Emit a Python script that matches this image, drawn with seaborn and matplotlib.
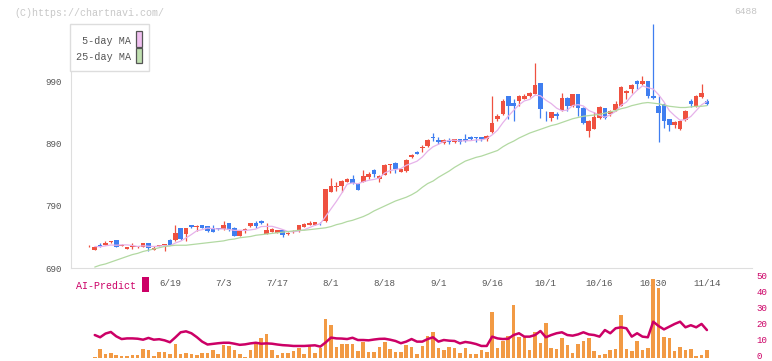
import numpy as np
import pandas as pd
import seaborn as sns
from matplotlib import pyplot as plt
from matplotlib.patches import Rectangle
from matplotlib.transforms import ScaledTranslation

# daily candles (price)
opens = [725, 720, 728, 728, 732, 735, 725, 721, 724, 724,
         724, 730, 719, 725, 727, 735, 735, 754, 745, 759,
         757, 759, 758, 754, 754, 753, 763, 755, 742, 751,
         758, 763, 766, 745, 749, 747, 751, 745, 748, 750,
         757, 759, 760, 763, 766, 813, 821, 822, 829, 834,
         826, 829, 837, 848, 834, 840, 856, 859, 845, 846,
         868, 877, 883, 886, 900, 896, 891, 896, 892, 898,
         898, 901, 900, 900, 897, 908, 930, 937, 966, 956,
         958, 962, 966, 970, 987, 933, 931, 938, 944, 964,
         950, 969, 948, 910, 914, 931, 947, 937, 944, 951,
         972, 978, 991, 985, 990, 967, 951, 954, 929, 920,
         913, 928, 959, 950, 965, 958]
highs = [727, 724, 730, 734, 734, 735, 729, 724, 730, 726,
         731, 730, 725, 728, 729, 737, 760, 755, 755, 760,
         759, 760, 758, 760, 755, 766, 763, 756, 750, 754,
         763, 766, 767, 762, 754, 752, 752, 748, 751, 760,
         762, 766, 764, 764, 818, 835, 828, 831, 835, 840,
         827, 848, 845, 849, 839, 857, 858, 860, 850, 865,
         874, 878, 888, 897, 907, 901, 897, 899, 898, 898,
         906, 902, 901, 901, 904, 967, 938, 961, 967, 962,
         968, 970, 973, 1019, 988, 943, 941, 940, 971, 965,
         970, 970, 949, 928, 940, 950, 948, 944, 959, 982,
         976, 985, 992, 998, 991, 1082, 967, 955, 930, 926,
         928, 944, 961, 968, 985, 961]
lows = [724, 720, 724, 727, 730, 724, 725, 721, 721, 723,
        724, 717, 719, 725, 717, 727, 734, 736, 734, 755,
        750, 755, 749, 748, 751, 752, 750, 742, 742, 747,
        757, 754, 761, 745, 748, 746, 741, 744, 746, 749,
        756, 759, 760, 760, 765, 812, 814, 813, 829, 826,
        815, 828, 834, 837, 829, 840, 843, 843, 844, 845,
        867, 873, 877, 885, 894, 890, 889, 890, 891, 890,
        893, 896, 893, 894, 894, 907, 927, 936, 930, 926,
        950, 961, 965, 969, 931, 926, 926, 929, 943, 943,
        949, 935, 922, 900, 913, 930, 930, 935, 942, 950,
        962, 972, 977, 984, 963, 962, 892, 915, 910, 915,
        912, 927, 949, 949, 964, 952]
closes = [726, 724, 724, 730, 733, 724, 727, 724, 725, 725,
          730, 723, 722, 728, 729, 728, 746, 737, 754, 756,
          758, 755, 750, 749, 753, 759, 751, 742, 750, 752,
          763, 758, 762, 751, 753, 751, 744, 746, 749, 759,
          761, 762, 764, 762, 817, 822, 822, 830, 834, 827,
          815, 838, 842, 841, 838, 856, 857, 850, 849, 864,
          872, 874, 884, 896, 899, 892, 896, 893, 898, 892,
          894, 897, 899, 898, 903, 923, 935, 959, 950, 950,
          967, 967, 971, 984, 945, 932, 940, 934, 963, 950,
          969, 947, 923, 927, 932, 949, 931, 943, 954, 981,
          974, 984, 985, 990, 966, 963, 939, 927, 920, 925,
          927, 943, 953, 967, 972, 953]

# 25-day moving average as drawn
ma25 = [np.nan, 692, 695, 697, 700, 703, 706, 709, 712, 714,
        717, 719, 721, 723, 725, 726, 727, 727, 727, 728,
        729, 730, 731, 732, 733, 734, 736, 737, 739, 740,
        741, 743, 744, 745, 746, 747, 748, 749, 750, 751,
        751, 752, 753, 754, 755, 757, 760, 762, 765, 767,
        770, 773, 777, 782, 786, 790, 794, 798, 801, 804,
        808, 813, 820, 826, 830, 836, 841, 846, 852, 857,
        862, 865, 868, 870, 873, 876, 879, 885, 890, 894,
        899, 903, 907, 910, 913, 916, 919, 921, 924, 927,
        930, 932, 934, 935, 936, 937, 939, 941, 943, 946,
        948, 951, 953, 955, 956, 955, 954, 952, 950, 949,
        948, 948, 949, 950, 950, 951]

# volume bars and AI-Predict line (right scale 0-50)
volume = [0, 0.6, 5.4, 2.3, 2.9, 1.7, 1.1, 1.1, 1.9, 1.7,
          5.4, 5.0, 1.2, 3.5, 3.5, 2.5, 8.5, 2.5, 2.9, 2.1,
          1.5, 2.9, 2.9, 4.8, 2.1, 7.7, 7.3, 5.0, 2.1, 0.6,
          4.6, 8.9, 12.3, 14.7, 4.8, 1.7, 3.1, 2.9, 4.1, 6.2,
          2.3, 7.3, 3.1, 6.0, 24.0, 20.3, 6.8, 8.5, 8.5, 8.5,
          4.4, 10.0, 3.3, 3.3, 6.4, 9.7, 5.6, 3.7, 3.3, 7.9,
          6.8, 2.3, 7.3, 13.5, 15.8, 6.0, 4.8, 6.6, 6.0, 3.1,
          6.0, 2.3, 2.3, 4.8, 3.5, 28.4, 6.0, 10.6, 13.3, 32.8,
          12.9, 12.7, 4.8, 15.8, 9.1, 21.4, 6.0, 5.4, 12.3, 7.7,
          2.9, 8.5, 10.4, 12.3, 4.1, 1.7, 2.3, 4.8, 5.4, 26.4,
          5.4, 4.1, 10.4, 4.8, 6.0, 49.0, 43.3, 12.9, 12.3, 4.1,
          6.6, 4.8, 5.4, 1.1, 1.7, 4.8]
ai_predict = [np.nan, 14.1, 12.7, 15.0, 16.0, 13.3, 11.6, 12.0, 12.0, 11.8,
              11.2, 12.3, 11.2, 11.5, 10.8, 9.6, 12.6, 15.8, 16.4, 15.2,
              12.8, 10.0, 8.2, 8.6, 9.0, 9.3, 9.3, 8.7, 8.0, 8.3,
              8.9, 9.3, 8.7, 8.9, 8.7, 8.2, 7.8, 7.6, 7.3, 7.3,
              7.3, 7.5, 7.7, 6.9, 9.5, 12.5, 12.0, 11.9, 11.6, 12.4,
              11.0, 11.0, 10.8, 11.3, 11.7, 11.8, 11.2, 10.4, 9.0, 10.0,
              11.6, 10.0, 10.0, 11.6, 12.7, 10.0, 11.0, 10.6, 10.4, 8.9,
              9.8, 9.3, 8.5, 7.3, 7.3, 13.1, 12.0, 11.6, 11.8, 14.1,
              15.2, 13.1, 13.1, 14.1, 16.6, 12.7, 14.1, 15.2, 15.8, 14.1,
              13.7, 14.5, 15.8, 14.5, 14.1, 13.1, 17.2, 15.2, 18.3, 18.9,
              18.3, 13.1, 15.2, 13.1, 12.7, 22.4, 19.7, 17.6, 19.3, 21.0,
              22.4, 18.9, 20.2, 18.9, 21.0, 17.2]

# date labels sit every 10 trading days, counted back from the last day
date_labels = ["6/19", "7/3", "7/17", "8/1", "8/18", "9/1",
               "9/16", "10/1", "10/16", "10/30", "11/14"]
date_days = [15, 25, 35, 45, 55, 65, 75, 85, 95, 105, 115]
price_ticks = [690, 790, 890, 990]
ai_ticks = [0, 10, 20, 30, 40, 50]

sns.set_theme(style="white")
plt.rcParams['font.family'] = ['Liberation Mono', 'DejaVu Sans Mono']

df = pd.DataFrame({"open": opens, "high": highs, "low": lows, "close": closes,
                   "ma25": ma25, "volume": volume, "ai": ai_predict})
df["day"] = np.arange(len(df))
df["ma5"] = df["close"].rolling(5, min_periods=2).mean()
up = df["close"] >= df["open"]
colors = np.where(up, "#ef5140", "#3f7ef0")

W, H = 772, 361
fig = plt.figure(figsize=(W / 100, H / 100), dpi=100)
xlim = (-3.48, 123.45)

# main price panel
ax = fig.add_axes([70.7 / W, 1 - 268.3 / H, 681.6 / W, 244.3 / H])
ax.vlines(df["day"], df["low"], df["high"], colors=colors, lw=0.9, zorder=2)
body = np.maximum((df["close"] - df["open"]).abs(), 1.3)
ax.bar(df["day"], body, bottom=df[["open", "close"]].min(axis=1),
       width=0.86, color=colors, edgecolor="none", linewidth=0, zorder=3)
sns.lineplot(x=df["day"].values, y=df["ma5"].values, ax=ax, color="#e6b2ea", lw=0.9, zorder=4)
sns.lineplot(x=df["day"].values, y=df["ma25"].values, ax=ax, color="#b2d9a2", lw=0.9, zorder=4)
ax.set_xlim(xlim)
ax.set_ylim(690, 1082)
ax.set_xlabel("")
ax.set_ylabel("")
for s in ["top", "right"]:
    ax.spines[s].set_visible(False)
for s in ["left", "bottom"]:
    ax.spines[s].set_color("#dedede")
    ax.spines[s].set_linewidth(0.8)
ax.set_xticks(np.linspace(xlim[0], xlim[1], 12), [""] * 12)
ax.set_xticks(date_days, date_labels, minor=True)
ax.tick_params(axis="x", which="major", direction="inout", length=6, width=0.8, color="#dedede")
ax.tick_params(axis="x", which="minor", length=0, pad=7.6, labelsize=6.6, labelcolor="#555555")
ax.set_yticks(price_ticks, [str(v) for v in price_ticks])
ax.tick_params(axis="y", direction="inout", length=6, width=0.8, color="#dedede",
               pad=3.2, labelsize=6.6, labelcolor="#555555")

# volume + AI-Predict panel
ax2 = fig.add_axes([70.7 / W, 1 - 357.7 / H, 681.6 / W, 80.4 / H])
ax2.patch.set_visible(False)
ax2.bar(df["day"], df["volume"], width=0.66, color="#f29a44", edgecolor="none", linewidth=0, zorder=2)
sns.lineplot(x=df["day"].values, y=df["ai"].values, ax=ax2, color="#cc0066", lw=1.8, zorder=3)
ax2.set_xlim(xlim)
ax2.set_ylim(0, 50)
ax2.set_xlabel("")
ax2.set_ylabel("")
for s in ax2.spines.values():
    s.set_visible(False)
ax2.set_xticks([])
ax2.yaxis.tick_right()
ax2.set_yticks(ai_ticks, [str(v) for v in ai_ticks])
ax2.tick_params(axis="y", length=0, pad=3, labelsize=6.6, labelcolor="#cc0066")
# nudge the right-hand labels up a touch so "0" stays inside the figure
lift = ScaledTranslation(0, 1.5 / 72, fig.dpi_scale_trans)
for lbl in ax2.get_yticklabels():
    lbl.set_transform(lbl.get_transform() + lift)

# legend box for the moving averages
fig.patches.append(Rectangle((70.3 / W, 1 - 71 / H), 78.4 / W, 47 / H, transform=fig.transFigure,
                             fc="white", ec="#dddddd", lw=1))
fig.patches.append(Rectangle((136 / W, 1 - 46.7 / H), 6.3 / W, 15.7 / H, transform=fig.transFigure,
                             fc="#f0c0f0", ec="#555555", lw=0.9))
fig.patches.append(Rectangle((136 / W, 1 - 63.3 / H), 6.3 / W, 15 / H, transform=fig.transFigure,
                             fc="#c0e0b0", ec="#555555", lw=0.9))
fig.text(131 / W, 1 - 41.3 / H, "5-day MA", ha="right", va="center", fontsize=7.3, color="#555555")
fig.text(131 / W, 1 - 57.3 / H, "25-day MA", ha="right", va="center", fontsize=7.3, color="#555555")

# AI-Predict tag
fig.text(75.7 / W, 1 - 286 / H, "AI-Predict", ha="left", va="center", fontsize=7.2, color="#cc0066")
fig.patches.append(Rectangle((142 / W, 1 - 292.3 / H), 6.7 / W, 15 / H, transform=fig.transFigure,
                             fc="#cc0066", ec="none"))

# watermark and code
fig.text(14 / W, 1 - 12.5 / H, "(C)https://chartnavi.com/", ha="left", va="center",
         fontsize=7.2, color="#c8c8c8")
fig.text(757 / W, 1 - 12 / H, "6488", ha="right", va="center", fontsize=6.8, color="#c4c4c4")

fig.savefig("out.png", dpi=100)
